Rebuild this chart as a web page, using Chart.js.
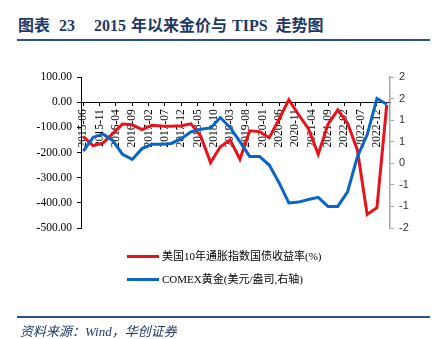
<!DOCTYPE html>
<html>
<head>
<meta charset="utf-8">
<script src="https://cdn.jsdelivr.net/npm/chart.js@4.4.1/dist/chart.umd.min.js"></script>
<style>
  body { margin: 0; background: #fff; }
  #wrap { position: relative; width: 437px; height: 339px; overflow: hidden; background: #fff; }
  #chart { position: absolute; left: 0; top: 0; }
  .title {
    position: absolute; left: 18px; top: 12px; line-height: 20px; white-space: nowrap;
    font: bold 16px "Liberation Serif", "Noto Sans CJK SC", serif; color: #1f3864;
  }
  .rule { position: absolute; left: 17px; width: 413px; height: 2px; background: #2b4f8a; }
  .rule.top { top: 39px; }
  .rule.bottom { top: 316px; }
  .legend { position: absolute; left: 127px; font: 11px "Liberation Serif", "Noto Sans CJK SC", serif; color: #000; }
  .legend div { position: relative; height: 14px; line-height: 14px; padding-left: 35px; white-space: nowrap; }
  .legend span { position: absolute; left: 0; top: 5.5px; width: 32px; height: 3px; }
  .source {
    position: absolute; left: 20px; top: 321px; line-height: 16px; white-space: nowrap;
    font: italic 13px "Liberation Serif", "Noto Sans CJK SC", serif; color: #1f3864;
  }
</style>
</head>
<body>
<div id="wrap">
  <div class="title"><span>图表</span><span style="margin-left:9px">23</span><span style="margin-left:19px">2015</span><span style="margin-left:5px">年以来金价与</span><span style="margin-left:5px">TIPS</span><span style="margin-left:8px">走势图</span></div>
  <div class="rule top"></div>
  <canvas id="chart" width="437" height="339"></canvas>
  <div class="legend" style="top:249px">
    <div><span style="background:#e8131a"></span>美国10年通胀指数国债收益率(%)</div>
  </div>
  <div class="legend" style="top:272px">
    <div><span style="background:#0b66c3"></span>COMEX黄金(美元/盎司,右轴)</div>
  </div>
  <div class="rule bottom"></div>
  <div class="source">资料来源：Wind，华创证券</div>
</div>
<script>
// quarterly observations
const quarters = [
  "2015-06", "2015-09", "2015-12", "2016-03", "2016-06", "2016-09", "2016-12", "2017-03",
  "2017-06", "2017-09", "2017-12", "2018-03", "2018-06", "2018-09", "2018-12", "2019-03",
  "2019-06", "2019-09", "2019-12", "2020-03", "2020-06", "2020-09", "2020-12", "2021-03",
  "2021-06", "2021-09", "2021-12", "2022-03", "2022-06", "2022-09", "2022-12", "2023-03",
];
const tipsYield = [
  -137, -173, -163, -125, -87, -90, -109, -92,
  -95, -96, -94, -86, -135, -240, -177, -150,
  -227, -114, -117, -141, -68, 10, -50, -105,
  -207, -88, -31, -84, -190, -446, -419, -11,
];
const goldPrice = [
  0.28, 0.6, 0.68, 0.53, 0.21, 0.09, 0.34, 0.44,
  0.44, 0.46, 0.57, 0.73, 0.79, 0.82, 1.06, 0.83,
  0.5, 0.16, 0.16, -0.04, -0.45, -0.92, -0.9, -0.84,
  -0.79, -1.0, -1.0, -0.66, 0.15, 0.66, 1.5, 1.37,
];
const axisLabels = [
  "2015-06", "2015-11", "2016-04", "2016-09", "2017-02", "2017-07", "2017-12",
  "2018-05", "2018-10", "2019-03", "2019-08", "2020-01", "2020-06", "2020-11",
  "2021-04", "2021-09", "2022-02", "2022-07", "2022-12",
];
const leftTicks = [100, 0, -100, -200, -300, -400, -500];
const rightTicks = [2, 1.5, 1, 0.5, 0, -0.5, -1, -1.5];

// months since 2015-06
function monthIndex(s) {
  const [y, m] = s.split("-").map(Number);
  return (y - 2015) * 12 + m - 6;
}

function toPoints(values) {
  return values.map((v, i) => ({ x: monthIndex(quarters[i]), y: v }));
}

const serif = "'Liberation Serif', 'Times New Roman', serif";

new Chart(document.querySelector("#chart"), {
  type: "line",
  data: {
    datasets: [
      {
        label: "美国10年通胀指数国债收益率(%)",
        data: toPoints(tipsYield),
        yAxisID: "y",
        borderColor: "#e8131a",
        borderWidth: 3,
        pointRadius: 0,
        tension: 0,
        order: 1,
      },
      {
        label: "COMEX黄金(美元/盎司,右轴)",
        data: toPoints(goldPrice),
        yAxisID: "y1",
        borderColor: "#0b66c3",
        borderWidth: 3,
        pointRadius: 0,
        tension: 0,
        order: 0,
      },
    ],
  },
  options: {
    responsive: false,
    animation: false,
    devicePixelRatio: 1,
    layout: { padding: { left: 0, right: 0, top: 77, bottom: 111 } },
    plugins: { legend: { display: false }, tooltip: { enabled: false } },
    scales: {
      x: {
        type: "linear",
        position: { y: 0 },
        min: -0.7,
        max: 94,
        afterBuildTicks: (scale) => {
          scale.ticks = axisLabels.map((s) => ({ value: monthIndex(s) }));
        },
        afterFit: (scale) => {
          scale.height = 0;
        },
        grid: { drawOnChartArea: false, drawTicks: true, tickLength: 3, color: "#000" },
        border: { color: "#000", width: 1 },
        ticks: {
          autoSkip: false,
          minRotation: 90,
          maxRotation: 90,
          padding: 4,
          color: "#000",
          font: { family: serif, size: 11.5 },
          callback: (value, index) => axisLabels[index],
        },
      },
      y: {
        position: "left",
        min: -500,
        max: 100,
        afterBuildTicks: (scale) => {
          scale.ticks = leftTicks.map((v) => ({ value: v }));
        },
        afterFit: (scale) => {
          scale.width = 81;
        },
        grid: { drawOnChartArea: false, drawTicks: true, tickLength: 4, color: "#000" },
        border: { color: "#000", width: 1 },
        ticks: {
          padding: 5,
          color: "#000",
          font: { family: serif, size: 11.5 },
          callback: (v) => v.toFixed(2),
        },
      },
      y1: {
        position: "right",
        min: -1.5,
        max: 2,
        afterBuildTicks: (scale) => {
          scale.ticks = rightTicks.map((v) => ({ value: v }));
        },
        afterFit: (scale) => {
          scale.width = 47;
        },
        grid: { drawOnChartArea: false, drawTicks: true, tickLength: 4, color: "#a6a6a6" },
        border: { color: "#a6a6a6", width: 1.5 },
        ticks: {
          padding: 5,
          color: "#333",
          font: { family: "'Liberation Sans', Arial, sans-serif", size: 11 },
          // integer labels, halves rounded away from zero
          callback: (v) => String(Math.sign(v) * Math.round(Math.abs(v)) || 0),
        },
      },
    },
  },
});
</script>
</body>
</html>
